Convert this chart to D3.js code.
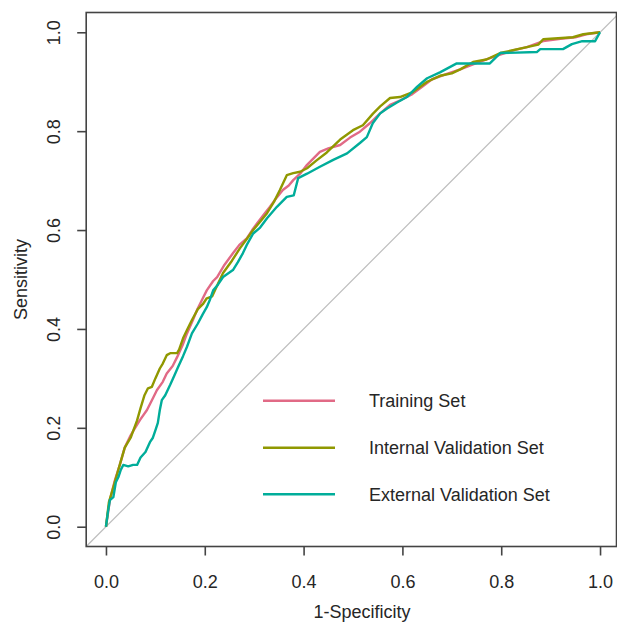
<!DOCTYPE html>
<html>
<head>
<meta charset="utf-8">
<script src="https://cdn.jsdelivr.net/npm/d3@7"></script>
<style>
  html, body { margin: 0; padding: 0; background: #fff; }
  svg { display: block; }
  text { font-family: "Liberation Sans", Arial, sans-serif; fill: #262626; }
</style>
</head>
<body>
<svg id="chart" width="617" height="626"></svg>
<script>
// ROC curves: [1-Specificity, Sensitivity] pairs for each data set
const trainingFpr = [0,0.008,0.018,0.028,0.038,0.05,0.059,0.069,0.083,0.095,0.103,0.115,0.123,0.135,0.144,0.155,0.164,0.176,0.185,0.194,0.204,0.217,0.225,0.24,0.257,0.27,0.285,0.296,0.306,0.32,0.332,0.345,0.358,0.37,0.379,0.393,0.407,0.42,0.433,0.45,0.474,0.494,0.514,0.534,0.555,0.575,0.595,0.62,0.64,0.66,0.69,0.717,0.743,0.77,0.798,0.83,0.852,0.885,0.92,0.95,0.972,1];
const trainingTpr = [0,0.054,0.094,0.125,0.16,0.185,0.2,0.216,0.236,0.26,0.276,0.293,0.31,0.325,0.343,0.367,0.391,0.418,0.44,0.458,0.478,0.497,0.505,0.53,0.553,0.57,0.583,0.6,0.614,0.632,0.647,0.665,0.681,0.69,0.701,0.714,0.732,0.745,0.758,0.765,0.772,0.787,0.799,0.816,0.836,0.853,0.862,0.875,0.89,0.905,0.916,0.925,0.935,0.945,0.955,0.965,0.97,0.982,0.987,0.99,0.996,1];

const internalFpr = [0,0.006,0.015,0.025,0.038,0.05,0.063,0.07,0.078,0.085,0.093,0.1,0.109,0.115,0.123,0.13,0.144,0.148,0.156,0.165,0.174,0.186,0.196,0.204,0.215,0.226,0.237,0.255,0.271,0.285,0.298,0.312,0.326,0.34,0.352,0.366,0.379,0.393,0.407,0.425,0.447,0.474,0.5,0.52,0.54,0.555,0.575,0.595,0.621,0.636,0.65,0.676,0.7,0.717,0.743,0.77,0.798,0.852,0.875,0.885,0.945,0.966,1];
const internalTpr = [0,0.05,0.08,0.115,0.16,0.18,0.215,0.24,0.266,0.28,0.283,0.3,0.32,0.33,0.347,0.351,0.351,0.358,0.381,0.4,0.418,0.44,0.45,0.462,0.466,0.49,0.513,0.538,0.563,0.582,0.6,0.617,0.634,0.657,0.681,0.711,0.715,0.718,0.725,0.74,0.757,0.783,0.802,0.812,0.835,0.85,0.867,0.869,0.879,0.89,0.9,0.912,0.917,0.925,0.94,0.945,0.958,0.97,0.975,0.986,0.99,0.996,1];

const externalFpr = [0,0.004,0.008,0.015,0.02,0.025,0.03,0.035,0.045,0.055,0.063,0.07,0.08,0.089,0.095,0.1,0.105,0.109,0.113,0.12,0.13,0.138,0.146,0.156,0.164,0.174,0.186,0.196,0.204,0.21,0.217,0.227,0.237,0.257,0.267,0.277,0.285,0.298,0.312,0.326,0.346,0.366,0.38,0.389,0.407,0.433,0.46,0.488,0.514,0.528,0.54,0.555,0.569,0.589,0.609,0.63,0.65,0.676,0.71,0.777,0.798,0.872,0.879,0.925,0.943,0.964,0.99,1];
const externalTpr = [0,0.03,0.054,0.06,0.09,0.1,0.115,0.125,0.122,0.125,0.125,0.14,0.151,0.171,0.18,0.195,0.21,0.236,0.256,0.266,0.287,0.305,0.323,0.345,0.364,0.391,0.411,0.43,0.444,0.458,0.478,0.49,0.505,0.519,0.535,0.553,0.57,0.593,0.605,0.624,0.647,0.667,0.67,0.705,0.714,0.728,0.742,0.755,0.776,0.788,0.816,0.836,0.846,0.858,0.869,0.89,0.907,0.919,0.937,0.937,0.958,0.96,0.966,0.966,0.976,0.982,0.982,1];

const seriesNames = ["Training Set", "Internal Validation Set", "External Validation Set"];
const seriesColors = ["#E16A86", "#909800", "#00AD9A"];
const tickValues = [0, 0.2, 0.4, 0.6, 0.8, 1.0];

const series = [
  { name: seriesNames[0], color: seriesColors[0], pts: d3.zip(trainingFpr, trainingTpr) },
  { name: seriesNames[1], color: seriesColors[1], pts: d3.zip(internalFpr, internalTpr) },
  { name: seriesNames[2], color: seriesColors[2], pts: d3.zip(externalFpr, externalTpr) }
];

const svg = d3.select("#chart");

// plot region uses a 4% padded domain, like base R graphics
const x = d3.scaleLinear().domain([-0.04, 1.04]).range([86.2, 619.8]);
const y = d3.scaleLinear().domain([-0.04, 1.04]).range([546.5, 12.5]);

svg.append("defs").append("clipPath").attr("id", "plotClip")
  .append("rect")
  .attr("x", x(-0.04)).attr("y", y(1.04))
  .attr("width", x(1.04) - x(-0.04)).attr("height", y(-0.04) - y(1.04));

const plot = svg.append("g").attr("clip-path", "url(#plotClip)");

// chance diagonal
plot.append("line")
  .attr("x1", x(-0.04)).attr("y1", y(-0.04))
  .attr("x2", x(1.04)).attr("y2", y(1.04))
  .attr("stroke", "#bdbdbd").attr("stroke-width", 1.2);

const line = d3.line().x(d => x(d[0])).y(d => y(d[1]));

series.forEach(s => {
  plot.append("path")
    .datum(s.pts)
    .attr("d", line)
    .attr("fill", "none")
    .attr("stroke", s.color)
    .attr("stroke-width", 2.4)
    .attr("stroke-linejoin", "round");
});

// frame
svg.append("rect")
  .attr("x", x(-0.04)).attr("y", y(1.04))
  .attr("width", Math.min(x(1.04), 616.5) - x(-0.04))
  .attr("height", y(-0.04) - y(1.04))
  .attr("fill", "none").attr("stroke", "#444").attr("stroke-width", 1.6);

// axes
const fmt = d3.format(".1f");
const xAxis = svg.append("g")
  .attr("transform", `translate(0,${y(-0.04)})`)
  .call(d3.axisBottom(x).tickValues(tickValues).tickFormat(fmt).tickSize(9).tickPadding(8));
const yAxis = svg.append("g")
  .attr("transform", `translate(${x(-0.04)},0)`)
  .call(d3.axisLeft(y).tickValues(tickValues).tickFormat(fmt).tickSize(9));

[xAxis, yAxis].forEach(g => {
  g.select(".domain").remove();
  g.selectAll(".tick line").attr("stroke", "#444").attr("stroke-width", 1.6);
  g.selectAll(".tick text").attr("font-size", 18).attr("fill", "#262626")
    .attr("font-family", "Liberation Sans, Arial, sans-serif");
});

xAxis.selectAll(".tick text").attr("dy", null).attr("y", 41 - 0);

yAxis.selectAll(".tick text")
  .attr("x", null).attr("dy", null)
  .attr("text-anchor", "middle")
  .attr("transform", "translate(-26,0) rotate(-90)");

// axis titles
svg.append("text")
  .attr("x", 362).attr("y", 618)
  .attr("text-anchor", "middle").attr("font-size", 18)
  .text("1-Specificity");

svg.append("text")
  .attr("transform", `translate(26.5,${y(0.5)}) rotate(-90)`)
  .attr("text-anchor", "middle").attr("font-size", 18)
  .text("Sensitivity");

// legend
const legend = svg.append("g");
const legendY = [400.7, 447.7, 494.3];
series.forEach((s, i) => {
  legend.append("line")
    .attr("x1", 263).attr("x2", 335)
    .attr("y1", legendY[i]).attr("y2", legendY[i])
    .attr("stroke", s.color).attr("stroke-width", 2.4);
  legend.append("text")
    .attr("x", 369).attr("y", legendY[i])
    .attr("dy", "0.35em")
    .attr("font-size", 18)
    .text(s.name);
});
</script>
</body>
</html>
